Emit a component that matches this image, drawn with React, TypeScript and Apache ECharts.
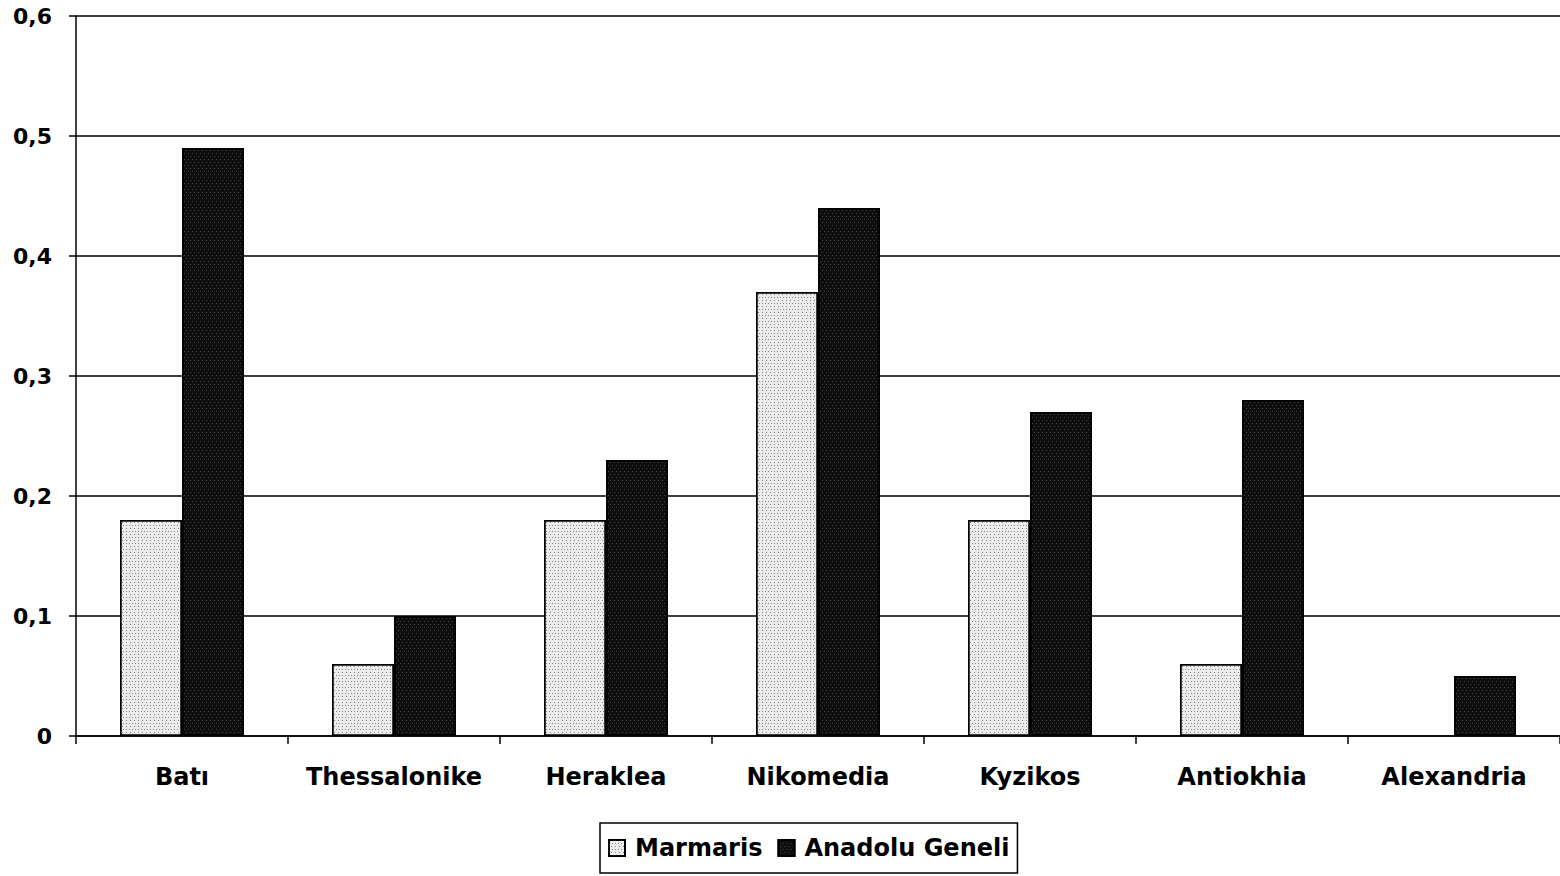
import React, { useEffect, useRef } from "react";
import * as echarts from "echarts";

const categories = ["Batı", "Thessalonike", "Heraklea", "Nikomedia", "Kyzikos", "Antiokhia", "Alexandria"];
const marmaris: (number | null)[] = [0.18, 0.06, 0.18, 0.37, 0.18, 0.06, null];
const anadolu: number[] = [0.49, 0.10, 0.23, 0.44, 0.27, 0.28, 0.05];
const seriesNames = ["Marmaris", "Anadolu Geneli"];

const FONT = "DejaVu Sans";

export default function App() {
  const ref = useRef<HTMLDivElement>(null);
  useEffect(() => {
    if (!ref.current) return;
    const chart = echarts.init(ref.current, undefined, { renderer: "svg" });
    chart.setOption({
      animation: false,
      backgroundColor: "#ffffff",
      grid: { left: 76, right: 0, top: 16, bottom: 140, containLabel: false },
      legend: {
        data: seriesNames,
        left: 600,
        top: 823,
        orient: "horizontal",
        icon: "rect",
        itemWidth: 16,
        itemHeight: 16,
        itemGap: 15,
        padding: [13, 8, 13, 8],
        borderColor: "#000",
        borderWidth: 1.5,
        borderRadius: 0,
        textStyle: { fontFamily: FONT, fontWeight: "bold", fontSize: 24, color: "#000", padding: [0, 0, 0, 5] },
      },
      xAxis: {
        type: "category",
        data: categories,
        axisLine: { show: true, lineStyle: { color: "#000", width: 1.5 } },
        axisTick: { show: true, length: 8, interval: 0, alignWithLabel: false, lineStyle: { color: "#000", width: 1.5 } },
        axisLabel: { interval: 0, margin: 29, fontFamily: FONT, fontWeight: "bold", fontSize: 24, color: "#000" },
        splitLine: { show: false },
      },
      yAxis: {
        type: "value",
        min: 0,
        max: 0.6,
        interval: 0.1,
        axisLine: { show: true, lineStyle: { color: "#000", width: 1.5 } },
        axisTick: { show: true, length: 7, lineStyle: { color: "#000", width: 1.5 } },
        axisLabel: {
          margin: 24,
          fontFamily: FONT,
          fontWeight: "bold",
          fontSize: 22,
          color: "#000",
          formatter: (v: number) => (v === 0 ? "0" : v.toFixed(1).replace(".", ",")),
        },
        splitLine: { show: true, lineStyle: { color: "#000", width: 1.5 } },
      },
      series: [
        {
          name: seriesNames[0],
          type: "bar",
          data: marmaris,
          barWidth: 62,
          barGap: "0%",
          itemStyle: {
            color: "#ececec",
            borderColor: "#000",
            borderWidth: 1.5,
            decal: {
              symbol: "rect",
              symbolSize: 1,
              color: "#858585",
              dashArrayX: [[1, 2], [0, 1.5, 1, 0.5]],
              dashArrayY: [1, 1.5],
              rotation: 0,
            },
          },
        },
        {
          name: seriesNames[1],
          type: "bar",
          data: anadolu,
          barWidth: 62,
          barGap: "0%",
          itemStyle: {
            color: "#0e0e0e",
            borderColor: "#000",
            borderWidth: 1.5,
            decal: {
              symbol: "rect",
              symbolSize: 1,
              color: "rgba(255,255,255,0.22)",
              dashArrayX: [[1, 3], [0, 2, 1, 1]],
              dashArrayY: [1, 2],
              rotation: 0,
            },
          },
        },
      ],
    });
    return () => chart.dispose();
  }, []);
  return (
    <div
      ref={ref}
      style={{ position: "fixed", left: 0, top: 0, width: 1560, height: 876, background: "#fff" }}
    />
  );
}
